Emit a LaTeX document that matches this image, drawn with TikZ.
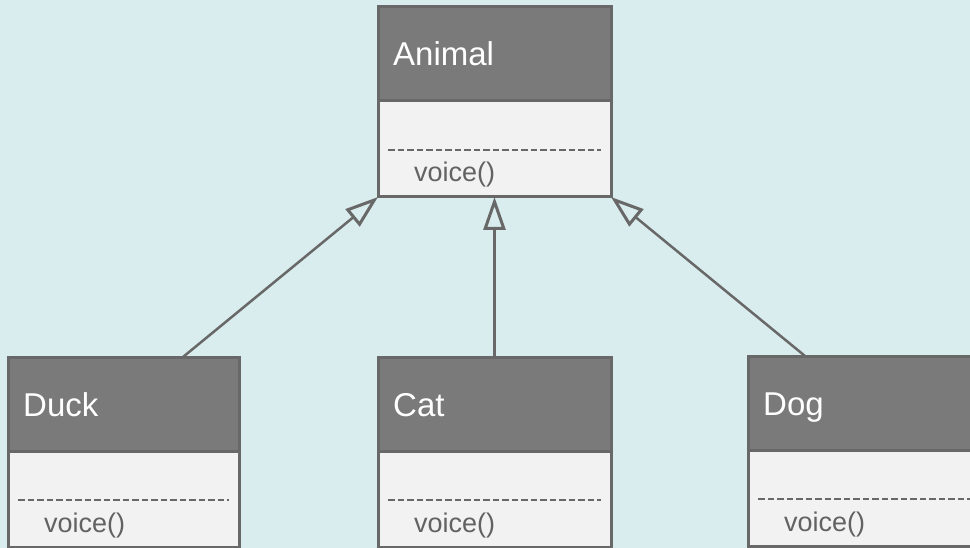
\documentclass[tikz,border=0pt]{standalone}
\usepackage{fontspec}
\setmainfont{Liberation Sans}
\usetikzlibrary{arrows.meta,calc}
\definecolor{bgc}{HTML}{DAEDEE}
\definecolor{hdrc}{HTML}{7A7A7A}
\definecolor{bordc}{HTML}{686868}
\definecolor{bodyc}{HTML}{F2F2F2}
\definecolor{txtc}{HTML}{626262}
\tikzset{
  boxbase/.style={draw=bordc, line width=3pt, inner sep=0pt, outer sep=0pt, anchor=north west},
  hdrbox/.style={boxbase, fill=hdrc, minimum height=94pt},
  bodybox/.style={boxbase, fill=bodyc, minimum height=96pt},
  titletext/.style={anchor=base west, inner sep=0pt, text=white, font=\fontsize{33}{38}\selectfont},
  optext/.style={anchor=base west, inner sep=0pt, text=txtc, font=\fontsize{27}{32}\selectfont},
  dashline/.style={draw=bordc, line width=2.5pt, dash pattern=on 6.5pt off 3pt},
  conn/.style={draw=bordc, line width=2.5pt, -{Triangle[open, length=33pt, width=22pt, line width=3pt]}}
}
\newcommand{\umlclass}[5]{%
  \node[hdrbox, minimum width=#4] (#1h) at (#2,#3) {};
  \node[bodybox, minimum width=#4] (#1b) at (#1h.south west) {};
  \node[titletext] (#1t) at ($(#1h.north west)+(15,59)$) {#5};
  \draw[dashline] ($(#1b.north west)+(10,49)$) -- ($(#1b.north east)+(-10,49)$);
  \node[optext] (#1o) at ($(#1b.north west)+(36,81)$) {voice()};
}
\begin{document}
\begin{tikzpicture}[x=1pt,y=-1pt]
  \fill[bgc] (0,0) rectangle (970,548);
  \useasboundingbox (0,0) rectangle (970,548);
  \clip (0,0) rectangle (970,548);
  \umlclass{animal}{378}{7}{233}{Animal}
  \umlclass{duck}{8}{357}{231}{Duck}
  \umlclass{cat}{378}{357}{233}{Cat}
  \umlclass{dog}{748}{356}{232}{Dog}
  \draw[conn] ($(duckh.north)+(59.5,0)$) -- (animalb.south west);
  \draw[conn] (cath.north) -- (animalb.south);
  \draw[conn] ($(dogh.north)+(-59,0)$) -- (animalb.south east);
\end{tikzpicture}
\end{document}
